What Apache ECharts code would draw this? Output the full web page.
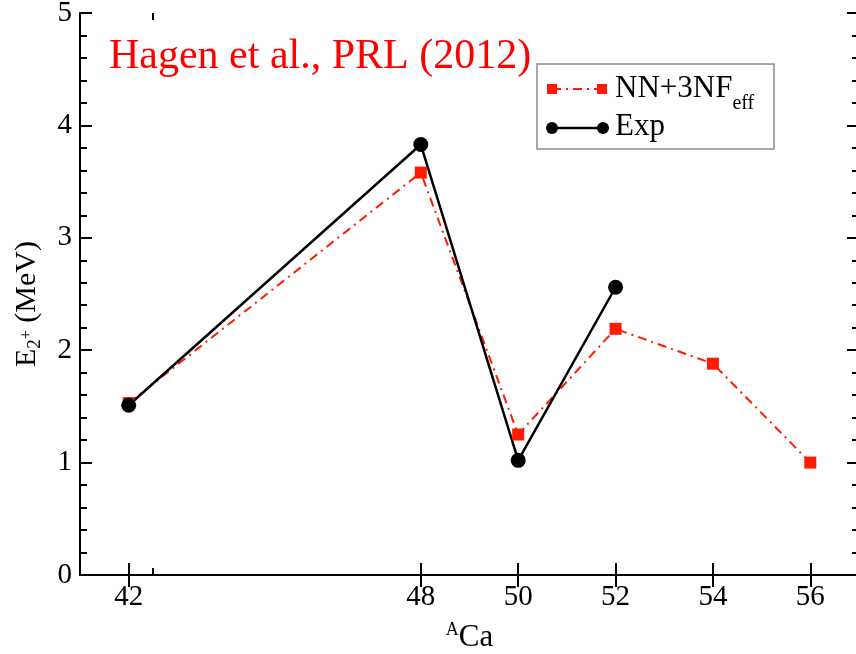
<!DOCTYPE html>
<html>
<head>
<meta charset="utf-8">
<script src="https://cdn.jsdelivr.net/npm/echarts@6/dist/echarts.min.js"></script>
<style>
  html, body { margin: 0; padding: 0; background: #fff; }
  #chart { width: 856px; height: 654px; }
</style>
</head>
<body>
<div id="chart"></div>
<script>
// mass numbers A of the Ca isotopes
const massTheory = [42, 48, 50, 52, 54, 56]
const e2Theory = [1.53, 3.58, 1.25, 2.19, 1.88, 1.00]
const massExp = [42, 48, 50, 52]
const e2Exp = [1.51, 3.83, 1.02, 2.56]
const xTicks = [42, 48, 50, 52, 54, 56]
const xMinorTicks = [42.5]

const font = 'Liberation Serif, Times New Roman, serif'
const red = '#ff1a00'

const chart = echarts.init(document.getElementById('chart'))

const tickLabel = { color: '#000', fontFamily: font, fontSize: 29 }
const axisLine = { lineStyle: { color: '#000', width: 2 } }

function xAxisDef(position, showLabel) {
  return {
    type: 'value',
    position,
    min: 41,
    max: 57,
    axisLine: { show: true, ...axisLine },
    axisTick: { show: true, inside: true, length: 12, lineStyle: { color: '#000', width: 2 }, customValues: xTicks },
    axisLabel: { show: showLabel, ...tickLabel, margin: 8, customValues: xTicks },
    splitLine: { show: false }
  }
}

function xMinorDef(position) {
  return {
    type: 'value',
    position,
    min: 41,
    max: 57,
    axisLine: { show: false },
    axisTick: { show: true, inside: true, length: 7, lineStyle: { color: '#000', width: 2 }, customValues: xMinorTicks },
    axisLabel: { show: false, customValues: xMinorTicks },
    splitLine: { show: false }
  }
}

function yAxisDef(position, showLabel) {
  return {
    type: 'value',
    position,
    min: 0,
    max: 5,
    interval: 1,
    axisLine: { show: true, ...axisLine },
    axisTick: { show: true, inside: true, length: 12, lineStyle: { color: '#000', width: 2 } },
    minorTick: { show: true, splitNumber: 5, length: 7, lineStyle: { color: '#000', width: 2 } },
    axisLabel: { show: showLabel, ...tickLabel, margin: 8 },
    splitLine: { show: false }
  }
}

const xMain = xAxisDef('bottom', true)
xMain.name = '{sup|A}{ca|Ca}'
xMain.nameLocation = 'middle'
xMain.nameGap = 46
xMain.nameTextStyle = {
  rich: {
    sup: { fontFamily: font, fontSize: 18, color: '#000', verticalAlign: 'top', lineHeight: 34 },
    ca: { fontFamily: font, fontSize: 31, color: '#000', lineHeight: 34 }
  }
}

const yMain = yAxisDef('left', true)
yMain.name = '{e|E}{sub|2}{sup|+}{t| (MeV)}'
yMain.nameLocation = 'middle'
yMain.nameRotate = 90
yMain.nameGap = 35
yMain.nameTextStyle = {
  padding: [0, 20, 0, 0],
  rich: {
    e: { fontFamily: font, fontSize: 30, color: '#000', lineHeight: 36 },
    sub: { fontFamily: font, fontSize: 19, color: '#000', verticalAlign: 'bottom', lineHeight: 36 },
    sup: { fontFamily: font, fontSize: 16, color: '#000', verticalAlign: 'middle', lineHeight: 36 },
    t: { fontFamily: font, fontSize: 30, color: '#000', lineHeight: 36 }
  }
}

chart.setOption({
  animation: false,
  grid: { left: 80, top: 13, right: -3, bottom: 79, outerBoundsMode: 'none' },
  xAxis: [xMain, xAxisDef('top', false), xMinorDef('bottom'), xMinorDef('top')],
  yAxis: [yMain, yAxisDef('right', false)],
  title: {
    text: 'Hagen et al., PRL (2012)',
    left: 109,
    top: 36,
    padding: 0,
    textStyle: { fontFamily: font, fontSize: 42, fontWeight: 'normal', color: '#ff0000' }
  },
  series: [
    {
      name: 'NN+3NF_eff',
      type: 'line',
      data: massTheory.map((a, i) => [a, e2Theory[i]]),
      symbol: 'rect',
      symbolSize: 12,
      itemStyle: { color: red },
      lineStyle: { color: red, width: 2, type: [9, 5, 2, 5] }
    },
    {
      name: 'Exp',
      type: 'line',
      data: massExp.map((a, i) => [a, e2Exp[i]]),
      symbol: 'circle',
      symbolSize: 15,
      itemStyle: { color: '#000' },
      lineStyle: { color: '#000', width: 2.5 }
    }
  ],
  graphic: [
    { type: 'rect', shape: { x: 537, y: 64, width: 237, height: 85 }, style: { fill: '#fff', stroke: '#8c8c8c', lineWidth: 1.5 }, z: 100 },
    { type: 'line', shape: { x1: 552, y1: 89, x2: 602, y2: 89 }, style: { stroke: red, lineWidth: 2, lineDash: [9, 5, 2, 5] }, z: 101 },
    { type: 'rect', shape: { x: 547, y: 84, width: 10, height: 10 }, style: { fill: red }, z: 102 },
    { type: 'rect', shape: { x: 597, y: 84, width: 10, height: 10 }, style: { fill: red }, z: 102 },
    { type: 'line', shape: { x1: 552, y1: 128, x2: 603, y2: 128 }, style: { stroke: '#000', lineWidth: 2.5 }, z: 101 },
    { type: 'circle', shape: { cx: 552, cy: 128, r: 6 }, style: { fill: '#000' }, z: 102 },
    { type: 'circle', shape: { cx: 603, cy: 128, r: 6 }, style: { fill: '#000' }, z: 102 },
    {
      type: 'text', x: 615, y: 89, z: 102,
      style: {
        text: '{m|NN+3NF}{s|eff}',
        verticalAlign: 'middle',
        rich: {
          m: { fontFamily: font, fontSize: 31, fill: '#000', lineHeight: 34 },
          s: { fontFamily: font, fontSize: 20, fill: '#000', verticalAlign: 'bottom', lineHeight: 34, padding: [0, 0, -8, 0] }
        }
      }
    },
    {
      type: 'text', x: 615, y: 127, z: 102,
      style: { text: 'Exp', fontFamily: font, fontSize: 31, fill: '#000', verticalAlign: 'middle' }
    }
  ]
})
</script>
</body>
</html>
